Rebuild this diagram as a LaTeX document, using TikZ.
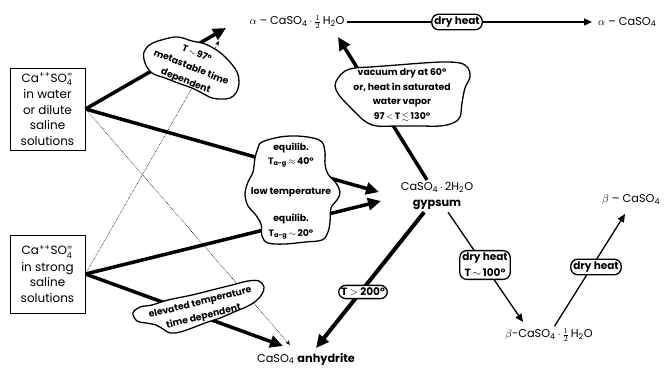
\documentclass[tikz,border=0pt]{standalone}
\usepackage{amsmath,amssymb}
\usepackage{fontspec}
\setmainfont{Poppins}
\usetikzlibrary{arrows.meta,backgrounds}

\tikzset{
  solnbox/.style={draw, line width=1pt, align=center, minimum width=75pt, inner sep=2pt, font=\fontsize{12}{15.5}\selectfont},
  chem/.style={inner sep=2pt, font=\fontsize{11.3}{16.5}\selectfont},
  cond/.style={draw, fill=white, line width=1.3pt, rounded corners=7pt, inner sep=2.5pt, align=center, font=\bfseries\fontsize{10.5}{16}\selectfont},
  blobtxt/.style={align=center, inner sep=0pt, font=\bfseries\fontsize{9.3}{14.5}\selectfont},
  blob/.style={draw, fill=white, line width=1.3pt},
  heavy/.style={line width=3.5pt, -{Triangle[length=13pt,width=12pt]}},
  medium/.style={line width=1.3pt, -{Triangle[length=8pt,width=7pt]}},
  dots/.style={densely dotted, line width=0.6pt, -{Stealth[length=5pt,width=4pt]}},
}

\begin{document}
\begin{tikzpicture}[x=1pt,y=-1pt]
  \useasboundingbox (0,0) rectangle (666,368);

  % Starting solutions
  \node[solnbox, minimum height=82pt] (dilute) at (47.5,109) {Ca\textsuperscript{++}SO$_{\text{4}}^{\text{=}}$\\[1pt]in water\\or dilute\\saline\\solutions};
  \node[solnbox, minimum height=78pt] (strong) at (47.5,274) {Ca\textsuperscript{++}SO$_{\text{4}}^{\text{=}}$\\[1pt]in strong\\saline\\solutions};

  % Phases
  \node[chem] (ahemi) at (297,22) {$\alpha$ -- CaSO\textsubscript{4}$\,\cdot\,\frac{1}{2}\,$H\textsubscript{2}O};
  \node[chem, anchor=west] (acaso) at (596,22) {$\alpha$ -- CaSO\textsubscript{4}};
  \node[chem, align=center] (gypsum) at (437,196) {CaSO\textsubscript{4}$\,\cdot\,$2H\textsubscript{2}O\\\textbf{gypsum}};
  \node[chem] (anhyd) at (306,359) {CaSO\textsubscript{4} \textbf{anhydrite}};
  \node[chem] (bhemi) at (549,335) {$\beta$-CaSO\textsubscript{4}$\,\cdot\,\frac{1}{2}\,$H\textsubscript{2}O};
  \node[chem, anchor=west] (bcaso) at (600,200) {$\beta$ -- CaSO\textsubscript{4}};

  % Conditions in clouds
  \node[blobtxt, rotate=-22] (metast) at (191,68) {T$\,\sim\,$97\textdegree\\metastable time\\dependent};
  \node[blobtxt] (lowT) at (291,191) {equilib.\\T\textsubscript{a-g}$\,\approx\,$40\textdegree\\[15.5pt]low temperature\\[12.5pt]equilib.\\T\textsubscript{a-g}$\,\sim\,$20\textdegree};
  \node[blobtxt] (vacuum) at (402,95) {vacuum dry at 60\textdegree\\or, heat in saturated\\water vapor\\97$\,<\,$T$\,\lesssim\,$130\textdegree};
  \node[blobtxt, rotate=14] (elev) at (202,310) {elevated temperature\\time dependent};

  % Conditions in boxes
  \node[cond] (dryA) at (457,22) {dry heat};
  \node[cond] (dryC) at (485,265) {dry heat\\T$\,\sim\,$100\textdegree};
  \node[cond] (dryB) at (596,267) {dry heat};
  \node[cond] (hot) at (363,292) {T $>$ 200\textdegree};

  % Arrow tips
  \coordinate (aIn) at (226,28);
  \coordinate (aDot) at (219,41);
  \coordinate (aVac) at (338,37);
  \coordinate (gIn1) at (379,192);
  \coordinate (gIn2) at (381,201);
  \coordinate (anIn1) at (283,346);
  \coordinate (anIn2) at (290,345);
  \coordinate (anIn3) at (316,348);
  \coordinate (bIn) at (523,322);
  \coordinate (bOut) at (625,214);

  \begin{scope}[on background layer]
    % Paths
    \draw[heavy] (dilute.east) -- (aIn);
    \draw[heavy] (dilute.east) -- (gIn1);
    \draw[heavy] (strong.east) -- (gIn2);
    \draw[heavy] (strong.east) -- (anIn1);
    \draw[dots] (dilute.east) -- (anIn2);
    \draw[dots] (strong.east) -- (aDot);
    \draw[heavy] (gypsum) -- (aVac);
    \draw[heavy, line width=4pt] (gypsum) -- (anIn3);
    \draw[medium] (gypsum) -- (bIn);
    \draw[medium, shorten >=4pt] (ahemi) -- (acaso);
    \draw[medium] (bhemi) -- (bOut);

    % Clouds
    \draw[blob] plot[smooth cycle, tension=0.6] coordinates {(144,52) (151,44) (165,39) (178,37) (192,41) (205,44) (218,51) (229,61) (237,72) (239,83) (236,93) (230,98) (222,99) (212,98) (202,93) (192,88) (178,83) (165,78) (152,73) (145,63)};
    \draw[blob] plot[smooth cycle, tension=0.6] coordinates {(262,142) (280,137) (297,136) (313,138) (322,142) (325,152) (325,164) (328,174) (336,183) (340,192) (337,200) (331,208) (330,222) (328,232) (322,240) (305,242) (285,244) (268,243) (262,236) (261,224) (255,214) (248,206) (245,194) (248,182) (253,172) (255,158) (258,148)};
    \draw[blob] plot[smooth cycle, tension=0.6] coordinates {(338,78) (345,71) (355,68) (370,67) (397,65) (423,63) (443,62) (460,63) (468,68) (470,77) (465,88) (462,103) (460,117) (453,123) (440,126) (420,126) (397,126) (377,126) (366,122) (358,115) (348,105) (339,95) (335,86)};
    \draw[blob] plot[smooth cycle, tension=0.6] coordinates {(133,313) (140,307) (152,305) (168,300) (192,295) (212,290) (232,285) (248,281) (259,281) (264,287) (262,294) (256,301) (246,307) (234,312) (220,318) (205,323) (192,328) (180,332) (170,333) (163,329) (156,325) (146,323) (137,321)};
  \end{scope}
\end{tikzpicture}
\end{document}
